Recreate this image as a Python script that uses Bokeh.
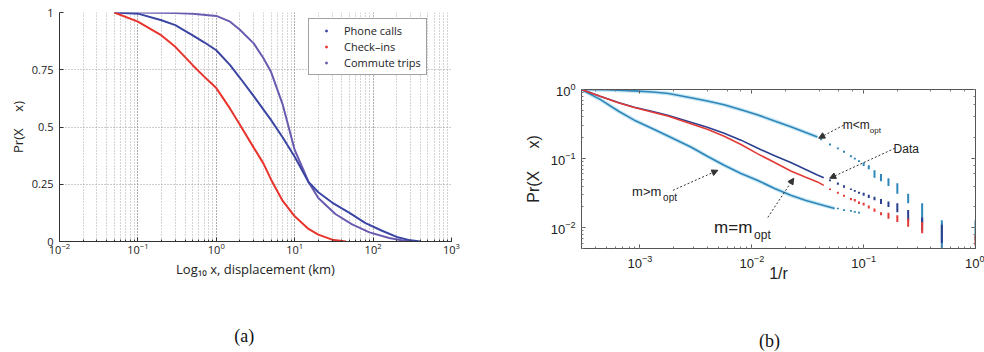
from bokeh.plotting import figure
from bokeh.models import (Legend, LegendItem, LogAxis, LinearAxis, Label, Arrow, NormalHead,
                          FixedTicker, CustomJSTickFormatter)
from bokeh.embed import file_html
from bokeh.resources import INLINE

# ---------------- Panel (a) data: displacement CCDF ----------------
phone_x = [0.05, 0.1, 0.2, 0.3, 0.5, 0.7, 1, 1.5, 2, 3, 5, 7, 10, 15, 20, 30, 50, 80, 130, 200,
           300, 400]
phone_y = [1.0, 0.995, 0.966, 0.945, 0.9, 0.87, 0.835, 0.77, 0.715, 0.635, 0.53, 0.455, 0.37,
           0.26, 0.215, 0.17, 0.125, 0.08, 0.047, 0.02, 0.005, 0.0]
checkin_x = [0.05, 0.1, 0.2, 0.3, 0.5, 0.7, 1, 1.5, 2, 3, 4, 5, 7, 10, 15, 20, 30, 45]
checkin_y = [1.0, 0.96, 0.9, 0.85, 0.77, 0.72, 0.67, 0.58, 0.51, 0.41, 0.34, 0.27, 0.178, 0.11,
             0.055, 0.03, 0.008, 0.0]
commute_x = [0.05, 0.1, 0.3, 0.5, 1, 1.5, 2, 3, 4, 5, 7, 10, 13, 15, 20, 33, 54, 90, 160, 230, 330]
commute_y = [1.0, 1.0, 0.998, 0.995, 0.985, 0.96, 0.925, 0.865, 0.8, 0.74, 0.6, 0.4, 0.31, 0.26,
             0.19, 0.12, 0.075, 0.04, 0.015, 0.005, 0.0]
a_yticks = [0, 0.25, 0.5, 0.75, 1]
a_labels = ["Phone calls", "Check\u2013ins", "Commute trips"]

# ---------------- Panel (b) data: Pr(X >= x) vs 1/r ----------------
mlt_x = [3e-4, 5e-4, 8.9e-4, 1.3e-3, 1.8e-3, 2.85e-3, 4e-3, 5.66e-3, 8e-3, 1.12e-2, 1.6e-2,
         2.23e-2, 3e-2, 3.86e-2]
mlt_y = [1.0, 0.99, 0.955, 0.92, 0.875, 0.76, 0.68, 0.6, 0.51, 0.43, 0.35, 0.29, 0.24, 0.206]
pair_x = [3e-4, 4.4e-4, 6.5e-4, 8.9e-4, 1.3e-3, 1.8e-3, 2.85e-3, 4e-3, 5.66e-3, 8e-3, 1.12e-2,
          1.6e-2, 2.23e-2, 3e-2, 3.86e-2, 4.4e-2]
data_y = [1.0, 0.80, 0.645, 0.555, 0.48, 0.42, 0.335, 0.285, 0.232, 0.185, 0.142, 0.11, 0.088,
          0.07, 0.058, 0.053]
meq_y = [1.0, 0.80, 0.64, 0.55, 0.47, 0.41, 0.32, 0.265, 0.21, 0.16, 0.118, 0.088, 0.066,
         0.054, 0.046, 0.041]
mgt_x = [3e-4, 4.4e-4, 6.5e-4, 8.9e-4, 1.3e-3, 1.8e-3, 2.85e-3, 4e-3, 5.66e-3, 8e-3, 1.12e-2,
         1.6e-2, 2.23e-2, 3e-2, 4.4e-2, 5.5e-2]
mgt_y = [1.0, 0.72, 0.48, 0.36, 0.27, 0.21, 0.147, 0.108, 0.08, 0.061, 0.0485, 0.037, 0.0294,
         0.025, 0.021, 0.019]

# discrete tails at x = 1/r (small r)
mlt_r = [24, 20, 17, 15, 13, 12, 11, 10, 9, 8, 7, 6, 5, 4, 3, 2, 1]
mlt_lo = [0.185, 0.155, 0.136, 0.122, 0.105, 0.097, 0.089, 0.078, 0.070, 0.053, 0.047, 0.040,
          0.031, 0.0225, 0.0115, 0.005, 0.0066]
mlt_hi = [0.195, 0.165, 0.145, 0.130, 0.112, 0.103, 0.095, 0.088, 0.080, 0.068, 0.060, 0.052,
          0.044, 0.031, 0.0225, 0.0128, 0.0128]
data_r = [20, 17, 15, 13, 12, 11, 10, 9, 8, 7, 6, 5, 4, 3, 2]
data_lo = [0.047, 0.042, 0.038, 0.035, 0.033, 0.031, 0.029, 0.027, 0.025, 0.022, 0.020, 0.0167,
           0.0125, 0.009, 0.006]
data_hi = [0.050, 0.045, 0.041, 0.037, 0.035, 0.033, 0.032, 0.030, 0.028, 0.026, 0.024, 0.0225,
           0.018, 0.014, 0.011]
meq_r = [20, 17, 15, 13, 12, 11, 10, 9, 8, 7, 6, 5, 4, 3, 1]
meq_lo = [0.035, 0.031, 0.028, 0.025, 0.024, 0.022, 0.021, 0.019, 0.017, 0.0151, 0.0135, 0.0121,
          0.0103, 0.0083, 0.0055]
meq_hi = [0.037, 0.033, 0.030, 0.027, 0.026, 0.024, 0.023, 0.021, 0.019, 0.0168, 0.0165, 0.0151,
          0.0135, 0.0121, 0.0077]
mgt_r = [17, 15, 13, 12, 11]
mgt_lo = [0.0185, 0.0175, 0.017, 0.0165, 0.016]
mgt_hi = [0.0195, 0.0185, 0.018, 0.0175, 0.017]

SANS_A = "Open Sans"
SANS_B = "Liberation Sans"
SERIF = "Liberation Serif"
NB = "\u00a0"
YLABEL = "Pr(X" + NB * 5 + "x)"


def caption_axis(fig, text, standoff):
    """An axis without ticks or line that only carries the panel caption below."""
    ax = LinearAxis(ticker=FixedTicker(ticks=[]), axis_label=text,
                    axis_line_color=None, major_tick_line_color=None,
                    minor_tick_line_color=None, major_tick_in=0, major_tick_out=0,
                    minor_tick_in=0, minor_tick_out=0, major_label_standoff=0,
                    axis_label_standoff=standoff, axis_label_text_font=SERIF,
                    axis_label_text_font_size="18px", axis_label_text_font_style="normal",
                    axis_label_text_color="#111111")
    fig.add_layout(ax, "below")


# ================= Panel (a) =================
pa = figure(x_axis_type="log", x_range=(1e-2, 1e3), y_range=(0, 1),
            frame_width=392, frame_height=229,
            min_border_left=59, min_border_right=39, min_border_top=12, min_border_bottom=111,
            output_backend="svg", toolbar_location=None)
pa.outline_line_color = None
pa.background_fill_color = "white"
pa.border_fill_color = "white"

for g in (pa.xgrid, pa.ygrid):
    g.grid_line_color = "#9a9a9a"
    g.grid_line_dash = "1 2"
pa.xgrid.minor_grid_line_color = "#a8a8a8"
pa.xgrid.minor_grid_line_dash = "1 2"

pa.yaxis.ticker = FixedTicker(ticks=a_yticks, minor_ticks=[])
pa.yaxis.formatter = CustomJSTickFormatter(code="return tick.toString();")
for ax in (pa.xaxis, pa.yaxis):
    ax.axis_line_color = "#333333"
    ax.major_tick_line_color = "#333333"
    ax.minor_tick_line_color = "#333333"
    ax.major_tick_in = 4
    ax.major_tick_out = 0
    ax.minor_tick_in = 2
    ax.minor_tick_out = 0
    ax.major_label_text_font = SANS_A
    ax.major_label_text_font_size = "11px"
    ax.major_label_text_color = "#222222"
    ax.axis_label_text_font = SANS_A
    ax.axis_label_text_font_size = "13px"
    ax.axis_label_text_font_style = "normal"
    ax.axis_label_text_color = "#222222"
pa.yaxis.major_label_standoff = 6
pa.yaxis.axis_label_standoff = 2
pa.xaxis.major_label_standoff = 1
pa.xaxis.axis_label_standoff = 3
pa.yaxis.axis_label = YLABEL
pa.xaxis.axis_label = "Log\u2081\u2080 x, displacement (km)"

col_phone = "#3b45a3"
col_check = "#e8342c"
col_commute = "#6a5bb0"
pa.line(commute_x, commute_y, line_color=col_commute, line_width=2)
pa.line(phone_x, phone_y, line_color=col_phone, line_width=2)
pa.line(checkin_x, checkin_y, line_color=col_check, line_width=2)

leg_src = ((phone_x, phone_y, col_phone), (checkin_x, checkin_y, col_check),
           (commute_x, commute_y, col_commute))
leg_r = [pa.scatter(x=xs[:1], y=ys[:1], size=2, color=c, visible=False) for xs, ys, c in leg_src]
legend = Legend(items=[LegendItem(label=l, renderers=[r]) for l, r in zip(a_labels, leg_r)],
                location=(249, 166), orientation="vertical",
                border_line_color="#444444", border_line_width=1,
                background_fill_color="white", background_fill_alpha=1,
                inactive_fill_alpha=0,
                label_text_font=SANS_A, label_text_font_size="11px", label_text_color="#222222",
                glyph_width=26, glyph_height=5, label_height=15, label_width=78,
                label_standoff=5, spacing=1, padding=4, margin=0)
pa.add_layout(legend)
caption_axis(pa, "(a)" + NB * 5, 45)

# ================= Panel (b) =================
pb = figure(x_axis_type="log", y_axis_type="log", x_range=(3e-4, 1), y_range=(5e-3, 1),
            frame_width=394, frame_height=159,
            min_border_left=91, min_border_right=9, min_border_top=89, min_border_bottom=104,
            output_backend="svg", toolbar_location=None)
pb.grid.grid_line_color = None
pb.outline_line_color = "#555555"
pb.background_fill_color = "white"
pb.border_fill_color = "white"

blank = CustomJSTickFormatter(code="return '';")
pb.add_layout(LogAxis(formatter=blank), "above")
pb.add_layout(LogAxis(formatter=blank), "right")
for ax in pb.axis:
    ax.axis_line_color = "#555555"
    ax.major_tick_line_color = "#555555"
    ax.minor_tick_line_color = "#777777"
    ax.major_tick_in = 4
    ax.major_tick_out = 0
    ax.minor_tick_in = 2
    ax.minor_tick_out = 0
    ax.major_label_text_font = SANS_B
    ax.major_label_text_font_size = "13px"
    ax.major_label_text_color = "#222222"
    ax.axis_label_text_font = SANS_B
    ax.axis_label_text_font_size = "16px"
    ax.axis_label_text_font_style = "normal"
    ax.axis_label_text_color = "#222222"
for ax in (pb.above[0], pb.right[0]):
    ax.major_label_standoff = 0
pb.below[0].axis_label = "1/r"
pb.below[0].axis_label_standoff = -6
pb.below[0].major_label_standoff = 6
pb.left[0].axis_label = YLABEL
pb.left[0].major_label_standoff = 6
pb.left[0].axis_label_standoff = 6

col_cyan = "#2f86b8"
col_halo = "#c9e8f5"
col_data = "#2b3f8f"
col_red = "#e23a36"

for xs, ys in ((mlt_x, mlt_y), (mgt_x, mgt_y)):
    pb.line(xs, ys, line_color=col_halo, line_width=4)
pb.line(mlt_x, mlt_y, line_color=col_cyan, line_width=1.6)
pb.line(mgt_x, mgt_y, line_color=col_cyan, line_width=1.6)
pb.line(pair_x, data_y, line_color=col_data, line_width=1.6)
pb.line(pair_x, meq_y, line_color=col_red, line_width=1.6)

def tail(rs, lo, hi, col):
    xs = [1.0 / r for r in rs]
    pb.segment(x0=xs, y0=lo, x1=xs, y1=hi, line_color=col, line_width=2, line_cap="butt")

tail(mlt_r, mlt_lo, mlt_hi, col_cyan)
tail(mgt_r, mgt_lo, mgt_hi, col_cyan)
tail(data_r, data_lo, data_hi, col_data)
tail(meq_r, meq_lo, meq_hi, col_red)

def arrow(x0, y0, x1, y1):
    pb.add_layout(Arrow(x_start=x0, y_start=y0, x_end=x1, y_end=y1,
                        line_color="#333333", line_width=1, line_dash="2 2",
                        end=NormalHead(size=6, fill_color="#333333", line_color="#333333")))

def sublabel(x, y, main, sub, size, subsize, dx):
    pb.add_layout(Label(x=x, y=y, text=main, text_align="left", text_baseline="middle",
                        text_font=SANS_B, text_font_size=f"{size}px", text_color="#222222"))
    pb.add_layout(Label(x=x, y=y, x_offset=dx, y_offset=-size * 0.45, text=sub,
                        text_align="left", text_baseline="middle",
                        text_font=SANS_B, text_font_size=f"{subsize}px", text_color="#222222"))

arrow(0.066, 0.304, 0.0396, 0.197)
sublabel(0.065, 0.31, "m<m", "opt", 12, 8, 27)
arrow(0.19, 0.141, 0.0497, 0.052)
pb.add_layout(Label(x=0.185, y=0.138, text="Data", text_align="left", text_baseline="middle",
                    text_font=SANS_B, text_font_size="12px", text_color="#222222"))
arrow(1.97e-3, 0.0347, 4.97e-3, 0.0677)
sublabel(8.5e-4, 0.0336, "m>m", "opt", 13, 10, 31)
arrow(0.0139, 0.0141, 0.0237, 0.052)
sublabel(4.6e-3, 0.0101, "m=m", "opt", 17, 12, 40)
caption_axis(pb, "(b)" + NB * 4, 46)

# two independent roots placed side by side (no frame alignment between them)
template = """
{% block postamble %}
<style>
html, body { height: auto !important; overflow: hidden; }
body { display: flex !important; flex-direction: row; align-items: flex-start; margin: 0; padding: 0; }
</style>
{% endblock %}
"""
open("out.html", "w").write(file_html([pa, pb], INLINE, template=template))
